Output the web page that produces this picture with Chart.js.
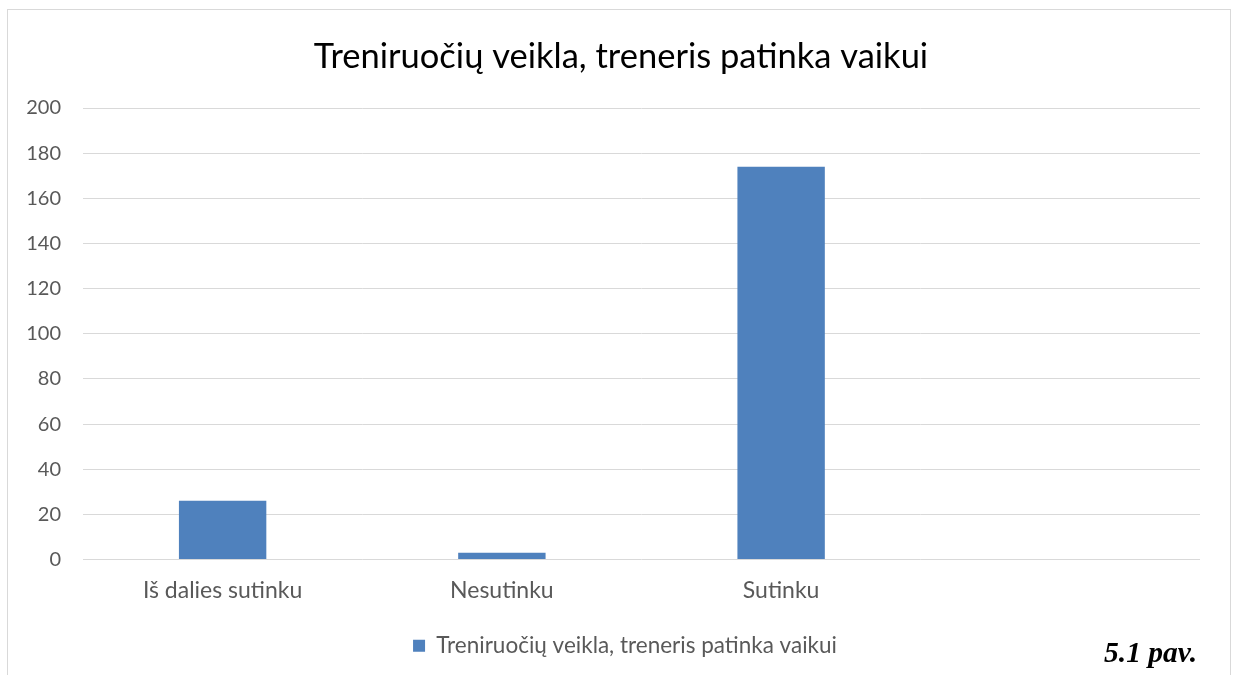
<!DOCTYPE html>
<html>
<head>
<meta charset="utf-8">
<script src="https://cdn.jsdelivr.net/npm/chart.js@4/dist/chart.umd.min.js"></script>
<style>
    html, body { margin: 0; padding: 0; background: #fff; overflow: hidden; }
    #frame {
        position: absolute; left: 7px; top: 9px; width: 1222px; height: 700px;
        border: 1px solid #d9d9d9; box-sizing: content-box;
    }
    #wrap { position: absolute; left: 8px; top: 10px; width: 1222px; height: 665px; }
    #pav {
        position: absolute; left: 1104px; top: 636px;
        font-family: 'Liberation Serif', 'Times New Roman', serif;
        font-weight: bold; font-style: italic; font-size: 29.5px; color: #000;
    }
</style>
</head>
<body>
<div id="frame"></div>
<div id="wrap"><canvas id="chart"></canvas></div>
<div id="pav">5.1 pav.</div>
<script>
// Duomenys
const kategorijos = ['Iš dalies sutinku', 'Nesutinku', 'Sutinku', ''];
const reiksmes = [26, 3, 174, null];
const serijosPavadinimas = 'Treniruočių veikla, treneris patinka vaikui';

const tekstoSpalva = '#595959';
const tinkloSpalva = '#d9d9d9';
const juostosSpalva = '#4f81bd';

Chart.defaults.font.family = "Lato, 'Open Sans', sans-serif";
Chart.defaults.color = tekstoSpalva;

// pavadinimas ir legenda Excel'yje šiek tiek pasislinkę į dešinę
const poslinkis = {
    id: 'poslinkis',
    afterLayout(chart) {
        if (chart.titleBlock) { chart.titleBlock.left += 17; chart.titleBlock.right += 17; }
        if (chart.legend) { chart.legend.left += 21; chart.legend.right += 21; }
    }
};

new Chart(document.getElementById('chart'), {
    type: 'bar',
    data: {
        labels: kategorijos,
        datasets: [{
            label: serijosPavadinimas,
            data: reiksmes,
            backgroundColor: juostosSpalva,
            borderWidth: 0,
            barPercentage: 0.313,
            categoryPercentage: 1
        }]
    },
    options: {
        responsive: true,
        maintainAspectRatio: false,
        animation: false,
        layout: { padding: { left: 0, right: 30, top: 0, bottom: 8 } },
        scales: {
            y: {
                min: 0,
                max: 200,
                ticks: { stepSize: 20, padding: 22, font: { size: 20 }, color: tekstoSpalva },
                grid: { color: tinkloSpalva, lineWidth: 1, drawTicks: false },
                border: { display: false },
                afterFit: function(scale) { scale.width = 75; }
            },
            x: {
                ticks: { padding: 17, font: { size: 23 }, color: tekstoSpalva },
                grid: { display: false, drawTicks: false },
                border: { display: false },
                afterFit: function(scale) { scale.height = 63; }
            }
        },
        plugins: {
            title: {
                display: true,
                text: serijosPavadinimas,
                color: '#000',
                font: { size: 34.5, weight: 'normal' },
                padding: { top: 26, bottom: 30.6 }
            },
            legend: {
                position: 'bottom',
                labels: {
                    boxWidth: 12,
                    boxHeight: 12,
                    padding: 12,
                    font: { size: 22.5 },
                    color: tekstoSpalva
                }
            },
            tooltip: { enabled: false }
        }
    },
    plugins: [poslinkis]
});
</script>
</body>
</html>
